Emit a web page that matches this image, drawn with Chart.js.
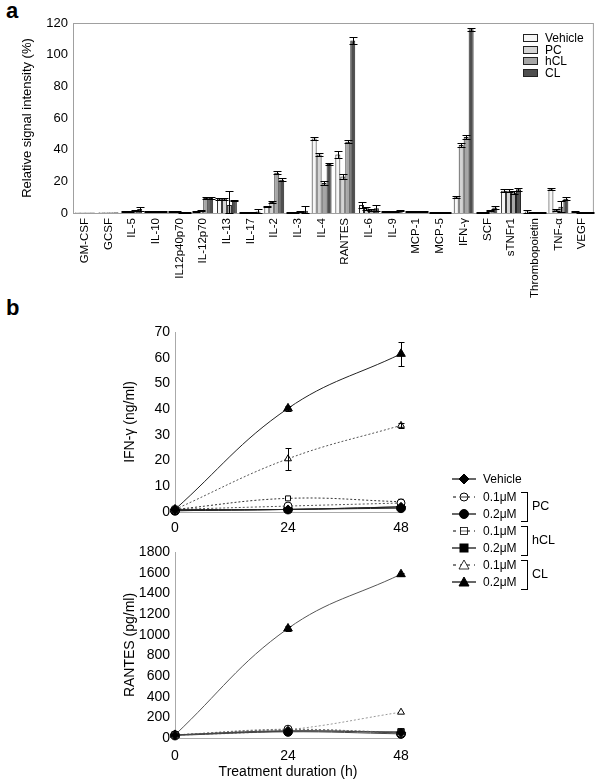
<!DOCTYPE html>
<html>
<head>
<meta charset="utf-8">
<script src="https://cdn.jsdelivr.net/npm/chart.js@4.4.0/dist/chart.umd.min.js"></script>
<style>
  body { margin: 0; background: #fff; font-family: 'Liberation Sans', Arial, sans-serif; }
  #page { position: relative; width: 601px; height: 784px; overflow: hidden; }
  canvas { position: absolute; }
  .panel { position: absolute; font-weight: bold; font-size: 22px; line-height: 1; }
  .leg { position: absolute; font-size: 12px; line-height: 12px; white-space: nowrap; color: #000; }
  .sw { position: absolute; width: 13px; height: 6px; border: 1px solid #222; }
  .br { position: absolute; width: 6px; border: 1px solid #000; border-left: none; }
</style>
</head>
<body>
<div id="page">
  <div class="panel" style="left:6px; top:0px;">a</div>
  <div class="panel" style="left:6px; top:297px;">b</div>
  <canvas id="barChart" width="601" height="305" style="left:0; top:0;"></canvas>
  <canvas id="ifnChart" width="420" height="226" style="left:0; top:310px;"></canvas>
  <canvas id="rantesChart" width="420" height="249" style="left:0; top:535px;"></canvas>
  <div id="legA"></div>
  <div id="legB"></div>
</div>
<script>
// ---- panel a data ----
const cytokines = ['GM-CSF', 'GCSF', 'IL-5', 'IL-10', 'IL12p40p70', 'IL-12p70', 'IL-13', 'IL-17', 'IL-2', 'IL-3', 'IL-4',
  'RANTES', 'IL-6', 'IL-9', 'MCP-1', 'MCP-5', 'IFN-γ', 'SCF', 'sTNFr1', 'Thrombopoietin', 'TNF-α', 'VEGF'];
const barSeries = ['Vehicle', 'PC', 'hCL', 'CL'];
const vehicle    = [0.3, 0.5, 1, 1.2, 1, 1, 9, 0.5, 4, 0.5, 47, 37, 5, 1, 1, 0.3, 10, 0.5, 14, 1, 15, 1];
const vehicleErr = [0, 0, 0.3, 0.3, 0.3, 0.3, 0.5, 0.3, 0.5, 0.3, 1, 2, 2, 0.3, 0.3, 0.2, 0.5, 0.3, 1, 1, 0.5, 0.5];
const pc         = [0.3, 0.5, 1, 1.2, 1, 1.5, 9, 0.5, 7, 0.5, 37, 23, 3, 1, 1, 0.5, 43, 0.5, 14, 0.5, 2, 0.5];
const pcErr      = [0, 0, 0.3, 0.3, 0.3, 0.3, 0.5, 0.3, 0.5, 0.3, 1, 1.5, 1, 0.3, 0.3, 0.2, 1, 0.3, 1, 0.3, 0.5, 0.3];
const hcl        = [0.3, 0.5, 1.5, 1.2, 0.5, 9.5, 5, 0.5, 25.5, 1, 19, 45, 2, 1, 1, 0.5, 48, 1.5, 13, 0.5, 4, 0.5];
const hclErr     = [0, 0, 0.5, 0.3, 0.3, 0.5, 9, 0.3, 1, 0.5, 1, 1, 0.5, 0.3, 0.3, 0.2, 1, 0.3, 1, 0.3, 3.5, 0.3];
const cl         = [0.3, 0.5, 2.5, 1.2, 0.5, 9.5, 8, 1, 21, 1.5, 31, 109, 3, 1.5, 1, 0.5, 116, 3.5, 15, 0.5, 9, 0.5];
const clErr      = [0, 0, 1, 0.3, 0.3, 0.5, 0.5, 1.5, 1, 3, 0.5, 2, 2, 0.5, 0.3, 0.2, 1, 1, 1, 0.3, 1, 0.3];

// ---- panel b data ----
const hours = [0, 24, 48];
const lineSeries = ['Vehicle', '0.1μM', '0.2μM', '0.1μM', '0.2μM', '0.1μM', '0.2μM'];
const ifnVehicle = [1, 1, 2];
const ifnPc1     = [1, 2.3, 3.5];
const ifnPc2     = [0.5, 1, 1.5];
const ifnHcl1    = [1, 5.3, 4];
const ifnHcl2    = [0.5, 1, 2];
const ifnCl1     = [1, 20.7, 33.7];
const ifnCl1Err  = [0, 4.3, 1];
const ifnCl2     = [1, 40.3, 61.5];
const ifnCl2Err  = [0, 1, 4.7];
const rantesVehicle = [30, 70, 50];
const rantesPc1     = [30, 85, 45];
const rantesPc2     = [25, 60, 40];
const rantesHcl1    = [30, 80, 55];
const rantesHcl2    = [30, 65, 60];
const rantesCl1     = [25, 80, 250];
const rantesCl2     = [30, 1060, 1585];
const rantesCl2Err  = [0, 20, 15];

Chart.defaults.font.family = "'Liberation Sans', Arial, sans-serif";
Chart.defaults.color = '#000';
Chart.defaults.animation = false;

// error bars drawn through the y scale
const errorBars = {
  id: 'errorBars',
  afterDatasetsDraw(chart, args, opts) {
    const ctx = chart.ctx;
    const y = chart.scales.y;
    ctx.save();
    ctx.strokeStyle = '#000';
    ctx.lineWidth = 1;
    chart.data.datasets.forEach((ds, di) => {
      if (!ds.errors) return;
      chart.getDatasetMeta(di).data.forEach((el, i) => {
        const e = ds.errors[i];
        if (!e) return;
        const raw = ds.data[i];
        const v = typeof raw === 'object' ? raw.y : raw;
        const x = Math.round(el.x) + 0.5;
        const yT = Math.round(y.getPixelForValue(v + e)) + 0.5;
        const yB = Math.round(y.getPixelForValue(Math.max(v - e, 0))) + 0.5;
        const w = opts.cap || 3;
        ctx.beginPath();
        ctx.moveTo(x, yT); ctx.lineTo(x, yB);
        ctx.moveTo(x - w, yT); ctx.lineTo(x + w, yT);
        ctx.moveTo(x - w, yB); ctx.lineTo(x + w, yB);
        ctx.stroke();
      });
    });
    ctx.restore();
  }
};

// grey box round the bar plot
const frame = {
  id: 'frame',
  beforeDatasetsDraw(chart) {
    const { ctx, chartArea: a } = chart;
    ctx.save();
    ctx.strokeStyle = '#a0a0a0';
    ctx.lineWidth = 1;
    ctx.strokeRect(a.left + 0.5, a.top + 0.5, a.right - a.left - 1, a.bottom - a.top);
    ctx.restore();
  }
};

const barColors = ['#f6f6f6', '#d4d4d4', '#a6a6a6', '#4f4f4f'];
const barData = [vehicle, pc, hcl, cl];
const barErr = [vehicleErr, pcErr, hclErr, clErr];

new Chart(document.getElementById('barChart'), {
  type: 'bar',
  data: {
    labels: cytokines,
    datasets: barSeries.map((name, i) => ({
      label: name,
      data: barData[i],
      errors: barErr[i],
      backgroundColor: barColors[i],
      borderColor: '#222',
      borderWidth: 1,
      categoryPercentage: 0.84,
      barPercentage: 1
    }))
  },
  options: {
    responsive: false,
    layout: { padding: { top: 23, left: 14, right: 6, bottom: 0 } },
    plugins: { legend: { display: false }, tooltip: { enabled: false }, errorBars: { cap: 4 } },
    scales: {
      x: {
        grid: { display: false, drawTicks: false },
        border: { color: '#888' },
        ticks: { autoSkip: false, minRotation: 90, maxRotation: 90, padding: 5, font: { size: 11.5 } },
        afterFit(s) { s.height = 92; }
      },
      y: {
        min: 0, max: 120,
        grid: { display: false, drawTicks: false },
        border: { color: '#888' },
        ticks: { stepSize: 20, padding: 5, font: { size: 13 } },
        title: { display: true, text: 'Relative signal intensity (%)', font: { size: 13 }, padding: { top: 6, bottom: 0 } },
        afterFit(s) { s.width = 59; }
      }
    }
  },
  plugins: [frame, errorBars]
});

// ---- panel b ----
const styles = [
  { pointStyle: 'rectRot', r: 4.5, fill: true, dash: [] },
  { pointStyle: 'circle', r: 4, fill: false, dash: [2, 2] },
  { pointStyle: 'circle', r: 4.5, fill: true, dash: [] },
  { pointStyle: 'rect', r: 3.5, fill: false, dash: [2, 2] },
  { pointStyle: 'rect', r: 4.5, fill: true, dash: [] },
  { pointStyle: 'triangle', r: 4, fill: false, dash: [2, 2] },
  { pointStyle: 'triangle', r: 5, fill: true, dash: [] }
];

function lineSets(series, errs, lineColors) {
  return series.map((vals, i) => ({
    label: lineSeries[i],
    data: hours.map((h, j) => ({ x: h, y: vals[j] })),
    errors: errs[i],
    borderColor: lineColors[i],
    borderWidth: 1,
    borderDash: styles[i].dash,
    tension: 0.4,
    pointStyle: styles[i].pointStyle,
    pointRadius: styles[i].r,
    pointBackgroundColor: styles[i].fill ? '#000' : '#fff',
    pointBorderColor: '#000',
    pointBorderWidth: 1,
    clip: false
  }));
}

function lineOptions(yMax, step, yTitle, xTitle) {
  return {
    responsive: false,
    layout: { padding: { top: xTitle ? 17 : 22, left: 118, right: 19, bottom: 0 } },
    plugins: { legend: { display: false }, tooltip: { enabled: false }, errorBars: { cap: 3 } },
    scales: {
      x: {
        type: 'linear', min: 0, max: 48,
        grid: { display: false, drawTicks: false },
        border: { color: '#aaa' },
        ticks: { stepSize: 24, padding: xTitle ? 10 : 8, font: { size: 14 } },
        title: { display: !!xTitle, text: xTitle || '', font: { size: 14 }, padding: { top: 2, bottom: 3 } },
        afterFit(s) { s.height = xTitle ? 46 : 24; }
      },
      y: {
        min: 0, max: yMax,
        grid: { display: false, drawTicks: false },
        border: { color: '#aaa' },
        ticks: { stepSize: step, padding: 5, font: { size: 14 }, callback: v => String(v) },
        title: { display: true, text: yTitle, font: { size: 14 }, padding: { top: 4, bottom: 0 } },
        afterFit(s) { s.width = 57; }
      }
    }
  };
}

new Chart(document.getElementById('ifnChart'), {
  type: 'line',
  data: {
    datasets: lineSets(
      [ifnVehicle, ifnPc1, ifnPc2, ifnHcl1, ifnHcl2, ifnCl1, ifnCl2],
      [null, null, null, null, null, ifnCl1Err, ifnCl2Err],
      ['#222', '#555', '#222', '#333', '#222', '#555', '#222'])
  },
  options: lineOptions(70, 10, 'IFN-γ (ng/ml)', null),
  plugins: [errorBars]
});

new Chart(document.getElementById('rantesChart'), {
  type: 'line',
  data: {
    datasets: lineSets(
      [rantesVehicle, rantesPc1, rantesPc2, rantesHcl1, rantesHcl2, rantesCl1, rantesCl2],
      [null, null, null, null, null, null, rantesCl2Err],
      ['#444', '#777', '#444', '#666', '#444', '#999', '#555'])
  },
  options: lineOptions(1800, 200, 'RANTES (pg/ml)', 'Treatment duration (h)'),
  plugins: [errorBars]
});

// ---- legends (HTML text) ----
const legA = document.getElementById('legA');
const rowA = [38, 49.5, 61, 72.5];
barSeries.forEach((name, i) => {
  legA.insertAdjacentHTML('beforeend',
    `<div class="sw" style="left:523px; top:${rowA[i] - 4}px; background:${barColors[i]}"></div>` +
    `<div class="leg" style="left:545px; top:${rowA[i] - 6}px;">${name}</div>`);
});

const legB = document.getElementById('legB');
const rowB = [479, 497, 514, 531, 548, 565, 582];
function markerSvg(st) {
  const f = st.fill ? '#000' : '#fff';
  let m = '';
  if (st.pointStyle === 'rectRot') m = `<polygon points="13,2 18,7 13,12 8,7" fill="${f}" stroke="#000"/>`;
  if (st.pointStyle === 'circle') m = `<circle cx="13" cy="7" r="${st.fill ? 4.5 : 4}" fill="${f}" stroke="#000"/>` +
    (st.fill ? '' : '<line x1="9.5" y1="7" x2="16.5" y2="7" stroke="#000" stroke-width="0.8"/>');
  if (st.pointStyle === 'rect') m = st.fill ? `<rect x="8.5" y="2.5" width="9" height="9" fill="#000"/>`
    : `<rect x="9.5" y="3.5" width="7" height="7" fill="#fff" stroke="#000" stroke-width="0.8"/><line x1="10" y1="7" x2="16" y2="7" stroke="#000" stroke-width="0.6"/>`;
  if (st.pointStyle === 'triangle') m = `<polygon points="13,2 18,11 8,11" fill="${f}" stroke="#000" stroke-width="${st.fill ? 1 : 0.8}"/>`;
  const line = st.fill
    ? '<line x1="1" y1="7" x2="25" y2="7" stroke="#000" stroke-width="1.2"/>'
    : '<line x1="2" y1="7" x2="24" y2="7" stroke="#000" stroke-width="1" stroke-dasharray="3,4"/>';
  return `<svg width="26" height="14" style="position:absolute; left:451px; top:0px">${line}${m}</svg>`;
}
lineSeries.forEach((name, i) => {
  legB.insertAdjacentHTML('beforeend',
    `<div style="position:absolute; left:0; top:${rowB[i] - 7}px; width:601px; height:14px;">${markerSvg(styles[i])}` +
    `<div class="leg" style="left:483px; top:1px;">${name}</div></div>`);
});
const groups = [['PC', 1, 2], ['hCL', 3, 4], ['CL', 5, 6]];
groups.forEach(([g, a, b]) => {
  const top = rowB[a] - 5, bot = rowB[b] + 6;
  legB.insertAdjacentHTML('beforeend',
    `<div class="br" style="left:521px; top:${top}px; height:${bot - top}px;"></div>` +
    `<div class="leg" style="left:532px; top:${(top + bot) / 2 - 6}px; font-size:12.5px;">${g}</div>`);
});
</script>
</body>
</html>
